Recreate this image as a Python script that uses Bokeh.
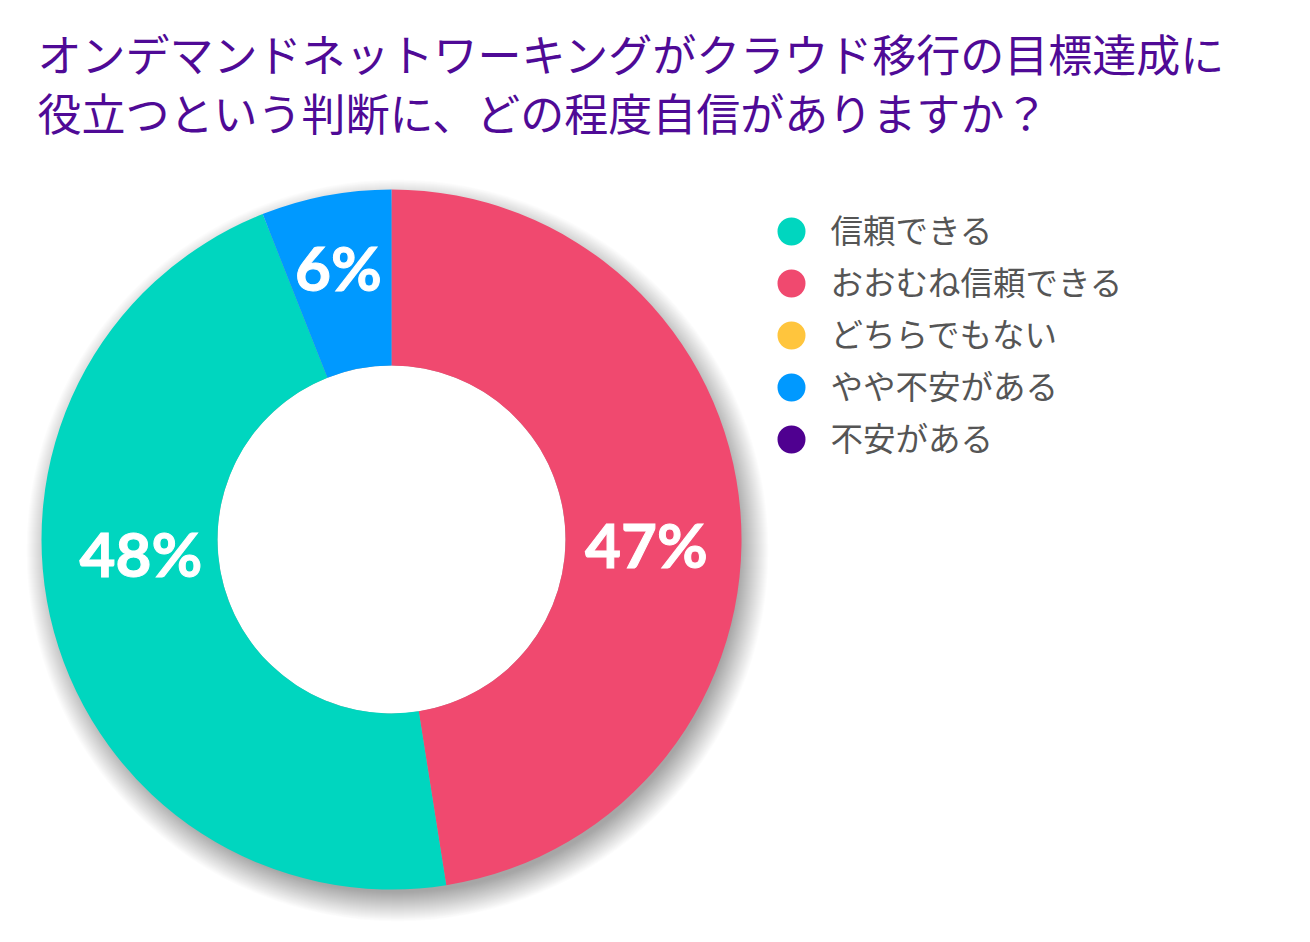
import numpy as np
from bokeh.plotting import figure
from bokeh.models import Range1d, ColumnDataSource
from bokeh.core.properties import value
from bokeh.embed import file_html
from bokeh.resources import INLINE

# ---------------- data ----------------
title_lines = ["オンデマンドネットワーキングがクラウド移行の目標達成に",
               "役立つという判断に、どの程度自信がありますか？"]
categories = ["信頼できる", "おおむね信頼できる", "どちらでもない", "やや不安がある", "不安がある"]
shares = [46.5, 47.5, 0.0, 6.0, 0.0]          # slice sizes
pct_labels = ["48%", "47%", "", "6%", ""]     # printed labels
colors = ["#00D6BF", "#F0496F", "#FFC53D", "#0099FF", "#4F0090"]
draw_order = [1, 0, 2, 3, 4]                  # clockwise from 12 o'clock
label_angle_deg = [267.0, 91.0, 0.0, 349.0, 0.0]   # label placement (clockwise from top)
label_radius = [251, 255, 0, 278, 0]

# ---------------- layout ----------------
W, H = 1310, 942
def Y(py):
    return H - py

cx, cy = 391, Y(539)
R_out, R_in = 350, 174

p = figure(width=W, height=H, x_range=Range1d(0, W), y_range=Range1d(0, H),
           output_backend="svg", toolbar_location=None, min_border=0,
           x_axis_location=None, y_axis_location=None)
p.grid.visible = False
p.outline_line_color = None
p.background_fill_color = "white"
p.border_fill_color = "white"

# soft drop shadow
for k in range(30):
    p.circle(x=cx + 6, y=cy - 11, radius=R_out - 8 + k, fill_color="black",
             fill_alpha=0.012, line_color=None)
# white hole background (hides shadow inside the ring)
p.circle(x=cx, y=cy, radius=R_in, fill_color="white", line_color=None)

# donut slices
total = sum(shares)
starts, ends, cols, names = [], [], [], []
cum = 0.0
for i in draw_order:
    a0 = cum / total * 2 * np.pi
    cum += shares[i]
    a1 = cum / total * 2 * np.pi
    if shares[i] <= 0:
        continue
    starts.append(np.pi / 2 - a0)
    ends.append(np.pi / 2 - a1)
    cols.append(colors[i])
    names.append(categories[i])
src = ColumnDataSource(dict(x=[cx] * len(starts), y=[cy] * len(starts),
                            start=starts, end=ends, color=cols, name=names))
p.annular_wedge(x="x", y="y", inner_radius=R_in, outer_radius=R_out,
                start_angle="start", end_angle="end", direction="clock",
                fill_color="color", line_color=None, source=src)

# percentage labels
lx, ly, lt = [], [], []
for i, t in enumerate(pct_labels):
    if not t:
        continue
    th = np.deg2rad(label_angle_deg[i])
    lx.append(cx + label_radius[i] * np.sin(th))
    ly.append(cy + label_radius[i] * np.cos(th))
    lt.append(t)
p.text(x=lx, y=ly, text=lt, text_color="white", text_font=value("Lato"),
       text_font_style="bold", text_font_size="62px",
       text_align="center", text_baseline="middle",
       text_outline_color="white")

# title
p.text(x=[37, 37], y=[Y(52), Y(111)], text=title_lines, text_color="#4F0A96",
       text_font=value("Noto Sans CJK JP"), text_font_size="44px",
       text_align="left", text_baseline="middle")

# legend
ly0, dy = 231, 52
leg_y = [Y(ly0 + dy * i) for i in range(len(categories))]
p.circle(x=[791] * len(categories), y=leg_y, radius=14, fill_color=colors, line_color=None)
p.text(x=[830] * len(categories), y=[v + 3 for v in leg_y], text=categories,
       text_color="#555555",
       text_font=value("Noto Sans CJK JP"), text_font_size="32.5px",
       text_align="left", text_baseline="middle")

open("out.html", "w").write(file_html(p, INLINE))
